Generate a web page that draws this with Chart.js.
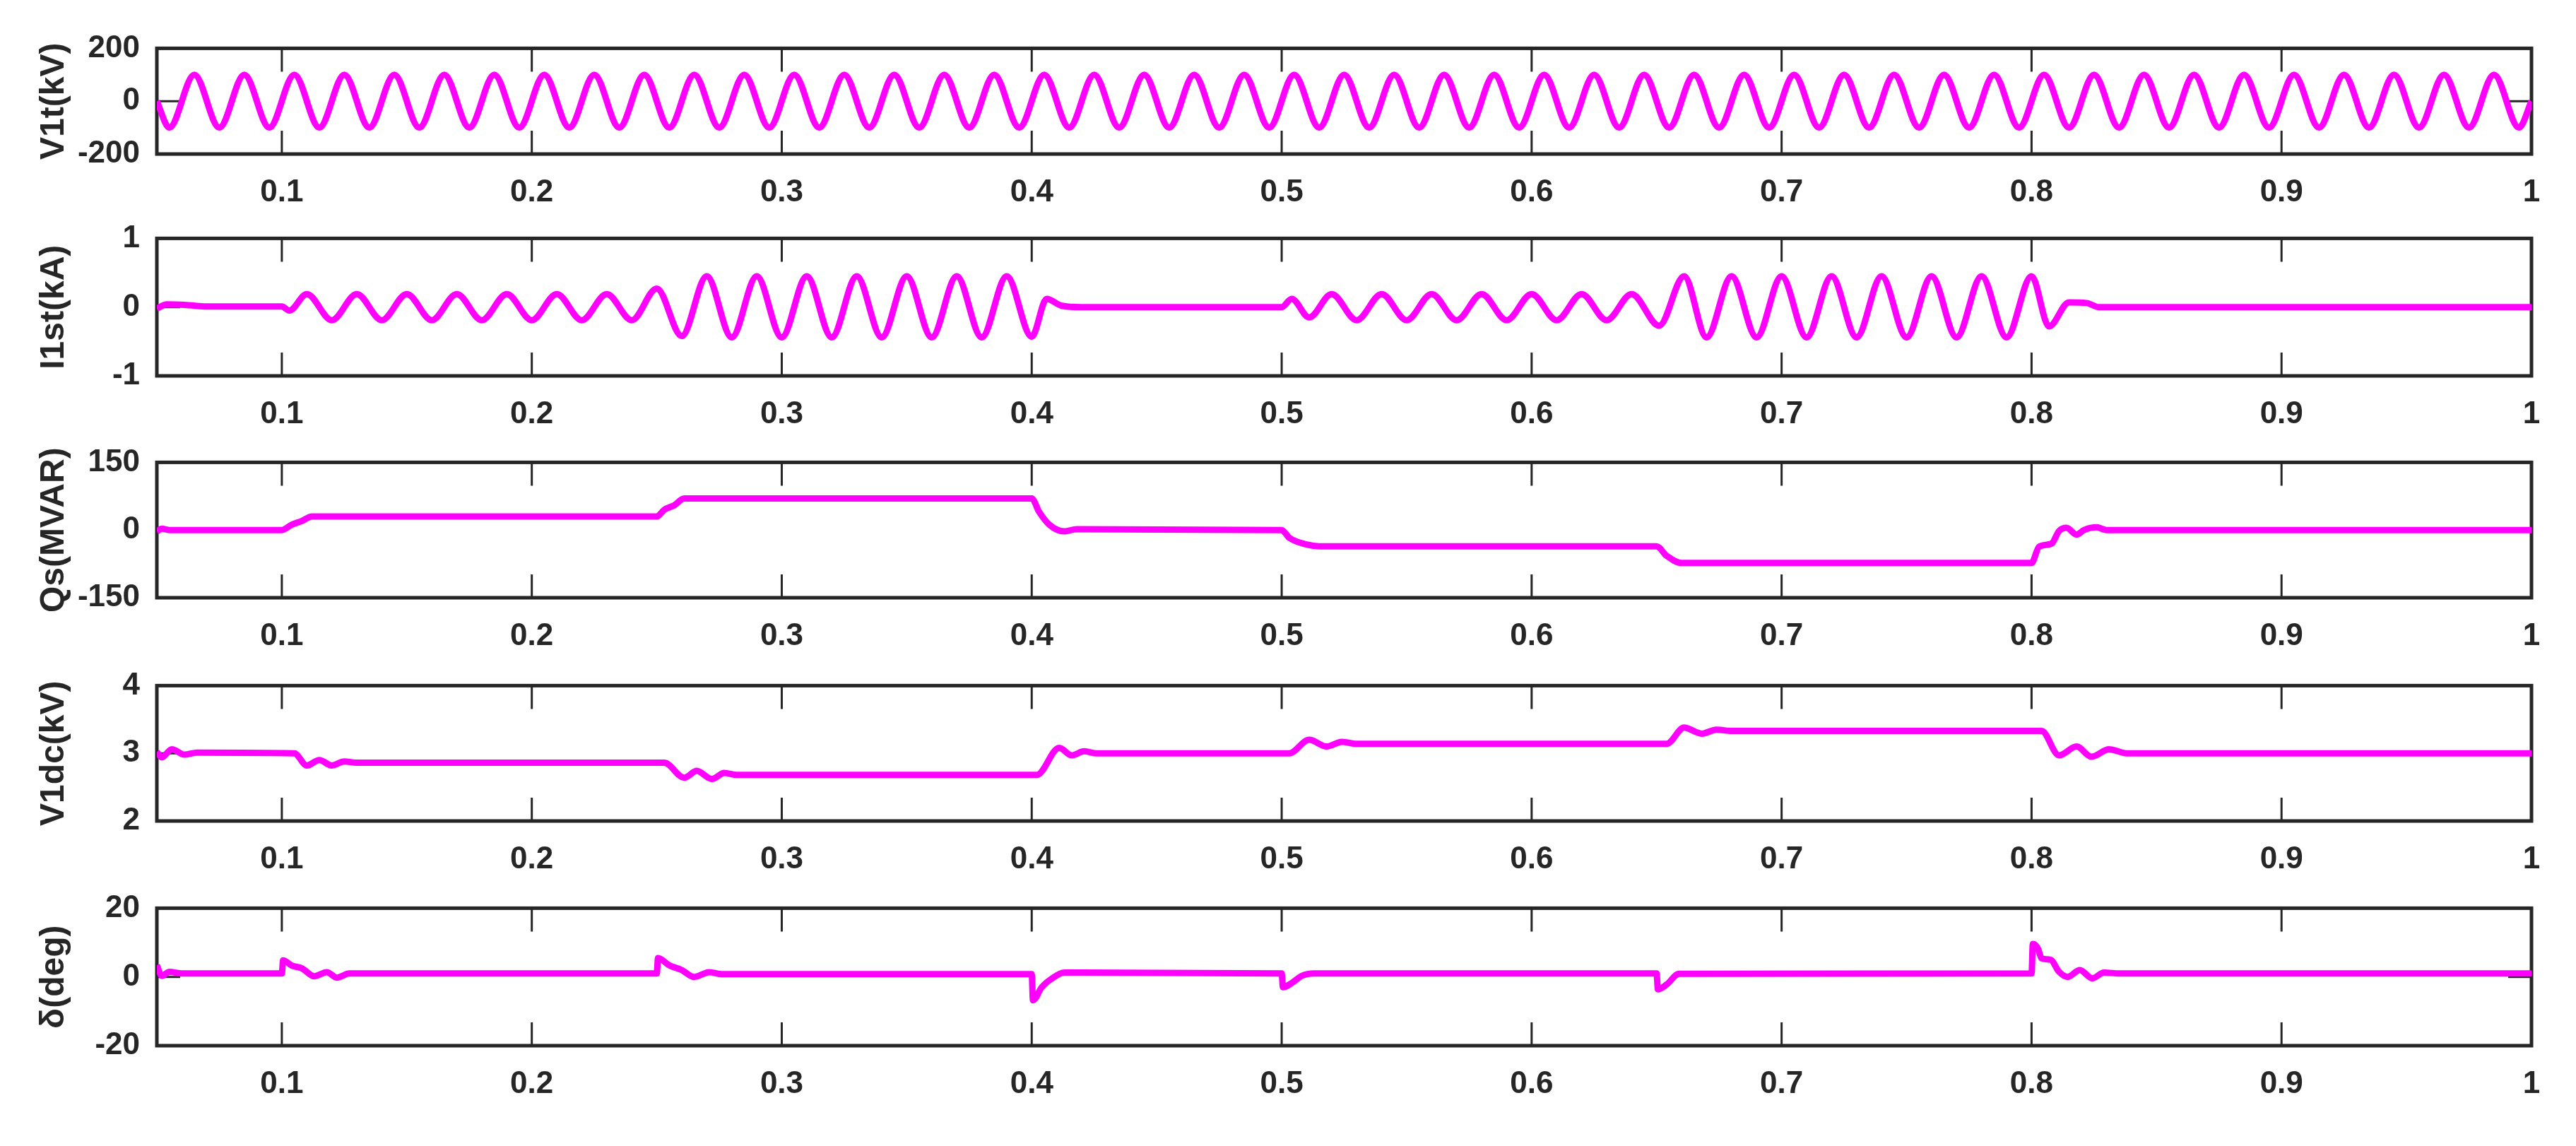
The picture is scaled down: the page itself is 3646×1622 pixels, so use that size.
<!DOCTYPE html>
<html>
<head>
<meta charset="utf-8">
<script src="https://cdn.jsdelivr.net/npm/chart.js@4.4.1/dist/chart.umd.min.js"></script>
<style>
  html, body { margin: 0; padding: 0; background: #fff; }
  #fig { position: relative; width: 3646px; height: 1622px; overflow: hidden; }
  #fig canvas { position: absolute; left: 0; }
</style>
</head>
<body>
<div id="fig"></div>
<script>
// shared time axis (s)
const xTicks = [0.1, 0.2, 0.3, 0.4, 0.5, 0.6, 0.7, 0.8, 0.9, 1];

// V1t (kV): terminal voltage, peaks/troughs
const v1tTime = [
  0.05, 0.055, 0.065, 0.075, 0.085, 0.095, 0.105, 0.115, 0.125, 0.135, 0.145,
  0.155, 0.165, 0.175, 0.185, 0.195, 0.205, 0.215, 0.225, 0.235, 0.245,
  0.255, 0.265, 0.275, 0.285, 0.295, 0.305, 0.315, 0.325, 0.335, 0.345,
  0.355, 0.365, 0.375, 0.385, 0.395, 0.405, 0.415, 0.425, 0.435, 0.445,
  0.455, 0.465, 0.475, 0.485, 0.495, 0.505, 0.515, 0.525, 0.535, 0.545,
  0.555, 0.565, 0.575, 0.585, 0.595, 0.605, 0.615, 0.625, 0.635, 0.645,
  0.655, 0.665, 0.675, 0.685, 0.695, 0.705, 0.715, 0.725, 0.735, 0.745,
  0.755, 0.765, 0.775, 0.785, 0.795, 0.805, 0.815, 0.825, 0.835, 0.845,
  0.855, 0.865, 0.875, 0.885, 0.895, 0.905, 0.915, 0.925, 0.935, 0.945,
  0.955, 0.965, 0.975, 0.985, 0.995, 1.0
];
const v1tValue = [
  0, -100, 100, -100, 100, -100, 100, -100, 100, -100, 100,
  -100, 100, -100, 100, -100, 100, -100, 100, -100, 100,
  -100, 100, -100, 100, -100, 100, -100, 100, -100, 100,
  -100, 100, -100, 100, -100, 100, -100, 100, -100, 100,
  -100, 100, -100, 100, -100, 100, -100, 100, -100, 100,
  -100, 100, -100, 100, -100, 100, -100, 100, -100, 100,
  -100, 100, -100, 100, -100, 100, -100, 100, -100, 100,
  -100, 100, -100, 100, -100, 100, -100, 100, -100, 100,
  -100, 100, -100, 100, -100, 100, -100, 100, -100, 100,
  -100, 100, -100, 100, -100, 0
];

// I1st (kA)
const i1stTime = [
  0.05, 0.054, 0.062, 0.07, 0.1, 0.103,
  0.11, 0.12, 0.13, 0.14, 0.15, 0.16, 0.17, 0.18, 0.19, 0.2, 0.21, 0.22, 0.23, 0.24, 0.25, 0.26,
  0.27, 0.28, 0.29, 0.3, 0.31, 0.32, 0.33, 0.34, 0.35, 0.36, 0.37, 0.38, 0.39, 0.4,
  0.406, 0.412, 0.42, 0.5, 0.504, 0.511,
  0.52, 0.53, 0.54, 0.55, 0.56, 0.57, 0.58, 0.59, 0.6, 0.61, 0.62, 0.63, 0.64, 0.651,
  0.661, 0.67, 0.68, 0.69, 0.7, 0.71, 0.72, 0.73, 0.74, 0.75, 0.76, 0.77, 0.78, 0.79, 0.8,
  0.807, 0.815, 0.822, 0.827, 1.0
];
const i1stValue = [
  -0.02, 0.04, 0.03, 0.01, 0.01, -0.05,
  0.19, -0.19, 0.19, -0.19, 0.19, -0.19, 0.19, -0.19, 0.19, -0.19, 0.19, -0.19, 0.19, -0.19, 0.27, -0.42,
  0.45, -0.44, 0.45, -0.44, 0.45, -0.44, 0.45, -0.44, 0.45, -0.44, 0.45, -0.44, 0.45, -0.43,
  0.12, 0.02, 0.0, 0.0, 0.12, -0.15,
  0.19, -0.19, 0.19, -0.19, 0.19, -0.19, 0.19, -0.19, 0.19, -0.19, 0.19, -0.19, 0.19, -0.27,
  0.45, -0.44, 0.45, -0.44, 0.45, -0.44, 0.45, -0.44, 0.45, -0.44, 0.45, -0.44, 0.45, -0.44, 0.45,
  -0.28, 0.07, 0.06, 0.0, 0.0
];

// Qs (MVAR)
const qsTime = [
  0.05, 0.052, 0.055, 0.1, 0.104, 0.108, 0.112, 0.25, 0.253, 0.257, 0.261,
  0.4, 0.403, 0.407, 0.413, 0.418, 0.5, 0.503, 0.51, 0.515,
  0.65, 0.654, 0.66, 0.8, 0.803, 0.808, 0.811, 0.814, 0.818, 0.821, 0.826, 0.83, 1.0
];
const qsValue = [
  -3, 3, 0, 0, 12, 20, 30, 30, 45, 55, 70,
  70, 40, 12, -3, 2, 0, -17, -32, -36,
  -36, -57, -73, -73, -37, -30, -2, 5, -10, 0, 6, 0, 0
];

// V1dc (kV)
const v1dcTime = [
  0.05, 0.052, 0.056, 0.061, 0.066, 0.105, 0.11, 0.115, 0.12, 0.125, 0.13,
  0.253, 0.261, 0.266, 0.272, 0.277, 0.282, 0.402, 0.411, 0.416, 0.421, 0.426,
  0.503, 0.511, 0.518, 0.524, 0.53, 0.654, 0.661, 0.668, 0.674, 0.68,
  0.804, 0.811, 0.818, 0.824, 0.831, 0.838, 1.0
];
const v1dcValue = [
  3.02, 2.94, 3.06, 2.98, 3.01, 3.0, 2.82, 2.9, 2.82, 2.88, 2.86,
  2.86, 2.64, 2.74, 2.62, 2.71, 2.68, 2.68, 3.08, 2.97, 3.03, 3.0,
  3.0, 3.2, 3.1, 3.17, 3.14, 3.14, 3.38, 3.29, 3.35, 3.33,
  3.33, 2.97, 3.1, 2.95, 3.06, 3.0, 3.0
];

// δ (deg)
const deltaTime = [
  0.05, 0.052, 0.055, 0.06, 0.1, 0.1005, 0.104, 0.108, 0.113, 0.118, 0.122, 0.127,
  0.25, 0.2505, 0.255, 0.26, 0.265, 0.271, 0.276, 0.4, 0.4005, 0.404, 0.408, 0.413,
  0.5, 0.5005, 0.504, 0.508, 0.513, 0.65, 0.6505, 0.654, 0.659,
  0.8, 0.8005, 0.8026, 0.804, 0.8076, 0.811, 0.8144, 0.8193, 0.8243, 0.829, 0.835, 1.0
];
const deltaValue = [
  3.4, 0.3, 1.5, 1.0, 1.0, 4.8, 3.3, 2.5, 0.2, 1.4, -0.2, 1.0,
  1.0, 5.5, 3.4, 2.0, 0.0, 1.4, 0.8, 0.8, -6.8, -3.0, -0.5, 1.3,
  1.0, -3.0, -1.8, 0.3, 1.0, 1.0, -3.6, -2.2, 0.9,
  1.0, 9.6, 8.2, 5.4, 5.0, 1.5, 0.0, 2.0, -0.4, 1.3, 1.0, 1.0
];

const panels = [
  { label: "V1t(kV)", time: v1tTime, values: v1tValue, yTicks: [-200, 0, 200], top: 58, bottom: 218 },
  { label: "I1st(kA)", time: i1stTime, values: i1stValue, yTicks: [-1, 0, 1], top: 327, bottom: 532 },
  { label: "Qs(MVAR)", time: qsTime, values: qsValue, yTicks: [-150, 0, 150], top: 644, bottom: 846 },
  { label: "V1dc(kV)", time: v1dcTime, values: v1dcValue, yTicks: [2, 3, 4], top: 960, bottom: 1162 },
  { label: "δ(deg)", time: deltaTime, values: deltaValue, yTicks: [-20, 0, 20], top: 1275, bottom: 1480 }
];

const W = 3646;
const PLOT_LEFT = 222, PLOT_RIGHT = 3583;
const PAD_TOP = 40, AXIS_H = 90;
const INK = "#262626", TRACE = "#ff00ff";

Chart.defaults.font.family = "'Liberation Sans', Arial, sans-serif";
Chart.defaults.font.size = 44;
Chart.defaults.font.weight = "bold";
Chart.defaults.color = INK;

// MATLAB-style box with inward ticks on all four sides
const boxTicks = {
  id: "boxTicks",
  beforeDatasetsDraw(chart) {
    const { ctx, chartArea: a, scales: { x, y } } = chart;
    const len = 33;
    ctx.save();
    ctx.strokeStyle = INK;
    ctx.lineWidth = 3;
    ctx.beginPath();
    x.ticks.forEach(t => {
      const px = x.getPixelForValue(t.value);
      ctx.moveTo(px, a.top); ctx.lineTo(px, a.top + len);
      ctx.moveTo(px, a.bottom); ctx.lineTo(px, a.bottom - len);
    });
    y.ticks.forEach(t => {
      const py = y.getPixelForValue(t.value);
      ctx.moveTo(a.left, py); ctx.lineTo(a.left + len, py);
      ctx.moveTo(a.right, py); ctx.lineTo(a.right - len, py);
    });
    ctx.stroke();
    ctx.lineWidth = 5;
    ctx.strokeRect(a.left, a.top, a.right - a.left, a.bottom - a.top);
    ctx.restore();
  }
};

const fig = document.getElementById("fig");

panels.forEach(p => {
  const canvas = document.createElement("canvas");
  const h = PAD_TOP + (p.bottom - p.top) + AXIS_H;
  canvas.width = W;
  canvas.height = h;
  canvas.style.width = W + "px";
  canvas.style.height = h + "px";
  canvas.style.top = (p.top - PAD_TOP) + "px";
  fig.appendChild(canvas);

  new Chart(canvas, {
    type: "line",
    data: {
      datasets: [{
        data: p.time.map((t, i) => ({ x: t, y: p.values[i] })),
        borderColor: TRACE,
        borderWidth: 9,
        pointRadius: 0,
        cubicInterpolationMode: "monotone",
        fill: false
      }]
    },
    options: {
      responsive: false,
      animation: false,
      devicePixelRatio: 1,
      layout: { padding: { top: PAD_TOP, right: W - PLOT_RIGHT, left: 0, bottom: 0 } },
      plugins: { legend: { display: false }, tooltip: { enabled: false } },
      scales: {
        x: {
          type: "linear",
          min: 0.05,
          max: 1,
          grid: { display: false, drawTicks: false },
          border: { display: false },
          afterBuildTicks: s => { s.ticks = xTicks.map(v => ({ value: v })); },
          afterFit: s => { s.height = AXIS_H; },
          ticks: { padding: 28, autoSkip: false, maxRotation: 0, callback: v => String(v) }
        },
        y: {
          min: p.yTicks[0],
          max: p.yTicks[2],
          grid: { display: false, drawTicks: false },
          border: { display: false },
          afterBuildTicks: s => { s.ticks = p.yTicks.map(v => ({ value: v })); },
          afterFit: s => { s.width = PLOT_LEFT; },
          ticks: { padding: 24, callback: v => String(v) },
          title: {
            display: true,
            text: p.label,
            color: INK,
            font: { size: 48, weight: "bold" },
            padding: { top: 48, bottom: 0 }
          }
        }
      }
    },
    plugins: [boxTicks]
  });
});
</script>
</body>
</html>
